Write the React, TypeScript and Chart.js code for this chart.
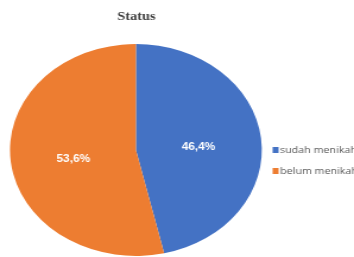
import React, { useEffect, useRef } from "react";
import { Chart, registerables } from "chart.js";

Chart.register(...registerables);

const chartTitle = "Status";
const categories = ["sudah menikah", "belum menikah"];
const values = [46.4, 53.6];
const valueLabels = ["46,4%", "53,6%"];
const colors = ["#4472C4", "#ED7D31"];

const W = 298;
const H = 257;
const SX = 354 / 298;

const overlay = {
  id: "overlay",
  afterDraw(chart: any) {
    const ctx = chart.ctx;
    ctx.save();
    // title
    ctx.fillStyle = "#404040";
    ctx.font = "bold 12px 'Liberation Serif', 'Times New Roman', serif";
    ctx.textAlign = "center";
    ctx.textBaseline = "middle";
    ctx.fillText(chartTitle, 114.8, 17);

    // slice labels
    const meta = chart.getDatasetMeta(0);
    ctx.font = "bold 10px 'Liberation Sans Narrow', 'Arial Narrow', sans-serif";
    ctx.fillStyle = "#ffffff";
    meta.data.forEach((arc: any, i: number) => {
      const p = arc.tooltipPosition();
      ctx.fillText(valueLabels[i], p.x, p.y + 3);
    });

    // legend
    ctx.font = "9px 'Open Sans', sans-serif";
    ctx.textAlign = "left";
    const rowY = [150, 171];
    categories.forEach((c, i) => {
      ctx.fillStyle = colors[i];
      ctx.fillRect(229.5, rowY[i] - 3, 5, 6);
      ctx.fillStyle = "#595959";
      ctx.fillText(c, 235.8, rowY[i]);
    });
    ctx.restore();
  },
};

export default function App() {
  const ref = useRef<HTMLCanvasElement | null>(null);
  useEffect(() => {
    document.body.style.margin = "0";
    const canvas = ref.current!;
    const chart = new Chart(canvas, {
      type: "pie",
      data: {
        labels: categories,
        datasets: [
          {
            data: values,
            backgroundColor: colors,
            borderWidth: 0,
          },
        ],
      },
      options: {
        responsive: false,
        animation: false,
        layout: { padding: { left: 8.4, top: 44, right: 77.6, bottom: 1 } },
        plugins: {
          legend: { display: false },
          title: { display: false },
          tooltip: { enabled: false },
        },
      },
      plugins: [overlay],
    });
    return () => chart.destroy();
  }, []);
  return (
    <div
      style={{
        position: "absolute",
        left: 0,
        top: 0,
        width: 354,
        height: 257,
        overflow: "hidden",
        background: "#ffffff",
      }}
    >
      <canvas
        ref={ref}
        width={W}
        height={H}
        style={{
          width: W + "px",
          height: H + "px",
          display: "block",
          transform: `scaleX(${SX})`,
          transformOrigin: "0 0",
        }}
      />
    </div>
  );
}
